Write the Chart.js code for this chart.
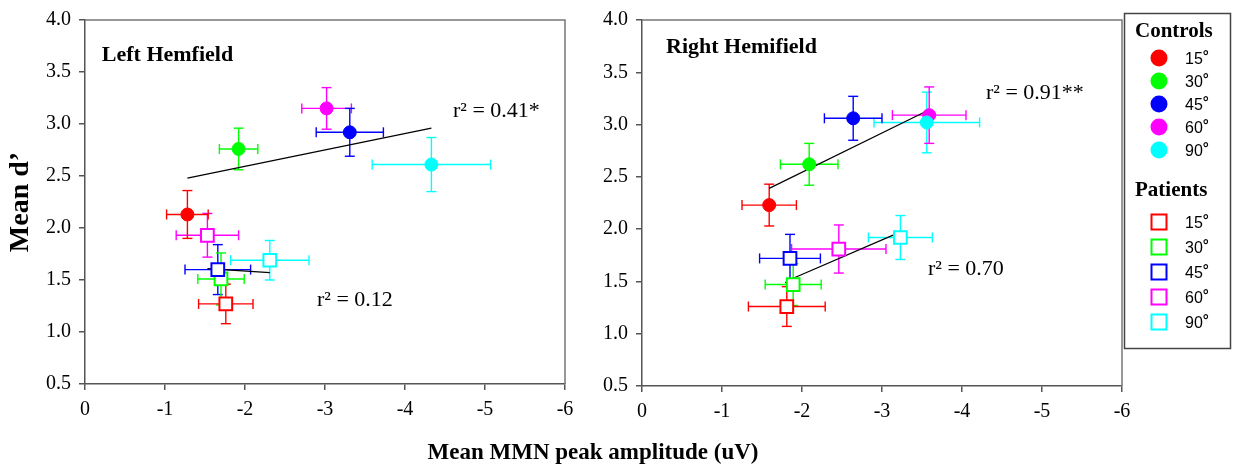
<!DOCTYPE html>
<html><head><meta charset="utf-8">
<script src="https://cdn.jsdelivr.net/npm/chart.js@4.4.1/dist/chart.umd.min.js"></script>
<style>
html,body{margin:0;padding:0;background:#fff;width:1233px;height:467px;overflow:hidden;position:relative}
#cA{position:absolute;left:0;top:0}
#cB{position:absolute;left:590px;top:0}
#xtitle{position:absolute;left:0;width:1186px;top:438px;text-align:center;font:bold 23px 'Liberation Serif',serif;line-height:28px;color:#000}
</style></head><body>
<canvas id="cA" width="590" height="467"></canvas>
<canvas id="cB" width="643" height="467"></canvas>
<div id="xtitle">Mean MMN peak amplitude (uV)</div>
<script>
// ---------- data ----------
const degrees = ['15', '30', '45', '60', '90'];
const xTicks = [0, -1, -2, -3, -4, -5, -6];
const yTicks = [0.5, 1.0, 1.5, 2.0, 2.5, 3.0, 3.5, 4.0];

// Left hemifield - controls
const leftCtrlX    = [-1.28, -1.92, -3.31, -3.02, -4.33];
const leftCtrlY    = [2.13, 2.76, 2.92, 3.15, 2.61];
const leftCtrlXErr = [0.26, 0.24, 0.42, 0.31, 0.74];
const leftCtrlYErr = [0.23, 0.20, 0.23, 0.20, 0.26];
// Left hemifield - patients
const leftPatX    = [-1.76, -1.70, -1.66, -1.53, -2.31];
const leftPatY    = [1.27, 1.51, 1.60, 1.93, 1.69];
const leftPatXErr = [0.34, 0.29, 0.41, 0.39, 0.49];
const leftPatYErr = [0.19, 0.25, 0.24, 0.21, 0.19];
// Right hemifield - controls
const rightCtrlX    = [-1.59, -2.09, -2.64, -3.59, -3.56];
const rightCtrlY    = [2.23, 2.62, 3.06, 3.09, 3.02];
const rightCtrlXErr = [0.34, 0.36, 0.36, 0.46, 0.66];
const rightCtrlYErr = [0.20, 0.20, 0.21, 0.27, 0.29];
// Right hemifield - patients
const rightPatX    = [-1.81, -1.89, -1.85, -2.46, -3.23];
const rightPatY    = [1.26, 1.47, 1.72, 1.81, 1.92];
const rightPatXErr = [0.48, 0.35, 0.38, 0.59, 0.40];
const rightPatYErr = [0.19, 0.20, 0.23, 0.23, 0.21];

// Regression lines (end points)
const leftCtrlFitX  = [-1.28, -4.33];
const leftCtrlFitY  = [2.48, 2.96];
const leftPatFitX   = [-1.53, -2.31];
const leftPatFitY   = [1.61, 1.57];
const rightCtrlFitX = [-1.59, -3.56];
const rightCtrlFitY = [2.39, 3.13];
const rightPatFitX  = [-1.89, -3.16];
const rightPatFitY  = [1.53, 1.95];

const panelTitles = ['Left Hemfield', 'Right Hemifield'];
const leftR2  = ['r² = 0.41*', 'r² = 0.12'];
const rightR2 = ['r² = 0.91**', 'r² = 0.70'];

// ---------- styles ----------
const colors = ['#ff0000', '#00ff00', '#0000ff', '#ff00ff', '#00ffff'];
Chart.defaults.font.family = "'Liberation Serif', serif";
Chart.defaults.color = '#000';

function errorSets(xs, ys, xe, ye) {
  const out = [];
  xs.forEach((x, i) => {
    const c = colors[i];
    const common = {showLine: true, borderColor: c, borderWidth: 1.4, pointStyle: 'line',
      pointRadius: 5, pointHoverRadius: 5, pointBorderColor: c, pointBorderWidth: 1.4, order: 3};
    out.push(Object.assign({data: [{x: x - xe[i], y: ys[i]}, {x: x + xe[i], y: ys[i]}], pointRotation: 90}, common));
    out.push(Object.assign({data: [{x: x, y: ys[i] - ye[i]}, {x: x, y: ys[i] + ye[i]}], pointRotation: 0}, common));
  });
  return out;
}
function pts(xs, ys) { return xs.map((x, i) => ({x: x, y: ys[i]})); }
function fitSet(xs, ys) {
  return {data: pts(xs, ys), showLine: true, borderColor: '#000', borderWidth: 1.2, pointRadius: 0, order: 2};
}
function ctrlSet(xs, ys) {
  return {data: pts(xs, ys), pointStyle: 'circle', pointRadius: 6.5, pointHoverRadius: 6.5,
    pointBackgroundColor: colors, pointBorderColor: colors, pointBorderWidth: 1, order: 0};
}
function patSet(xs, ys) {
  return {data: pts(xs, ys), pointStyle: 'rect', pointRadius: 9, pointHoverRadius: 9,
    pointBackgroundColor: '#ffffff', pointBorderColor: colors, pointBorderWidth: 2, order: 1};
}

const framePlugin = {
  id: 'frame',
  beforeDatasetsDraw(chart) {
    const {ctx, chartArea: a} = chart;
    ctx.save();
    ctx.strokeStyle = '#777';
    ctx.lineWidth = 1.5;
    ctx.beginPath();
    ctx.moveTo(a.left, a.top);
    ctx.lineTo(a.right, a.top);
    ctx.lineTo(a.right, a.bottom);
    ctx.stroke();
    ctx.restore();
  }
};

function textPlugin(items) {
  return {
    id: 'panelText',
    afterDatasetsDraw(chart) {
      const {ctx, scales} = chart;
      ctx.save();
      ctx.fillStyle = '#000';
      ctx.textAlign = 'left';
      ctx.textBaseline = 'middle';
      items.forEach(it => {
        ctx.font = it.font;
        ctx.fillText(it.text, scales.x.getPixelForValue(it.x), scales.y.getPixelForValue(it.y));
      });
      ctx.restore();
    }
  };
}

const legendPlugin = {
  id: 'groupLegend',
  afterDraw(chart) {
    const ctx = chart.ctx;
    const ox = 590;
    ctx.save();
    ctx.strokeStyle = '#444';
    ctx.lineWidth = 1.5;
    ctx.strokeRect(1124.5 - ox, 13.5, 106, 335);
    ctx.fillStyle = '#000';
    ctx.textBaseline = 'middle';
    ctx.textAlign = 'left';
    ctx.font = "bold 21px 'Liberation Serif', serif";
    ctx.fillText('Controls', 1135 - ox, 32);
    ctx.fillText('Patients', 1135 - ox, 191);
    const cy = [58, 81, 104, 127, 150];
    const py = [222, 247, 272, 297, 322];
    const numFont = "16px 'Liberation Sans', Arial, sans-serif";
    const degFont = "bold 15px 'Liberation Sans', Arial, sans-serif";
    function label(d, x, y) {
      ctx.fillStyle = '#000';
      ctx.font = numFont;
      ctx.fillText(d, x, y + 2);
      const w = ctx.measureText(d).width;
      ctx.font = degFont;
      ctx.fillText('°', x + w, y - 1);
    }
    degrees.forEach((d, i) => {
      ctx.fillStyle = colors[i];
      ctx.beginPath();
      ctx.arc(1159 - ox, cy[i], 8.5, 0, Math.PI * 2);
      ctx.fill();
      label(d, 1185 - ox, cy[i]);
      ctx.strokeStyle = colors[i];
      ctx.lineWidth = 2;
      ctx.strokeRect(1159 - ox - 7.5, py[i] - 7.5, 15, 15);
      label(d, 1185 - ox, py[i]);
    });
    ctx.restore();
  }
};

function scalesCfg(yWidth, xHeight, yTitle) {
  return {
    x: {
      type: 'linear', min: -6, max: 0, reverse: true,
      afterBuildTicks: s => { s.ticks = xTicks.map(v => ({value: v})); },
      ticks: {font: {size: 20}, color: '#000', padding: 8, callback: v => String(v), maxRotation: 0},
      grid: {drawOnChartArea: false, color: '#555', tickLength: 6, lineWidth: 1.5},
      border: {color: '#555', width: 1.5},
      afterFit: s => { s.height = xHeight; }
    },
    y: {
      type: 'linear', min: 0.5, max: 4.0,
      afterBuildTicks: s => { s.ticks = yTicks.map(v => ({value: v})); },
      ticks: {font: {size: 20}, color: '#000', padding: 8, callback: v => Number(v).toFixed(1)},
      grid: {drawOnChartArea: false, color: '#555', tickLength: 6, lineWidth: 1.5},
      border: {color: '#555', width: 1.5},
      title: yTitle ? {display: true, text: yTitle, font: {size: 28, weight: 'bold'}, color: '#000', padding: {top: 4, bottom: 0}} : {display: false},
      afterFit: s => { s.width = yWidth; }
    }
  };
}

const baseOpts = {
  responsive: false, animation: false, devicePixelRatio: 1,
  events: [],
  plugins: {legend: {display: false}, tooltip: {enabled: false}}
};

new Chart(document.getElementById('cA'), {
  type: 'scatter',
  data: {datasets: [
    ctrlSet(leftCtrlX, leftCtrlY),
    patSet(leftPatX, leftPatY),
    fitSet(leftCtrlFitX, leftCtrlFitY),
    fitSet(leftPatFitX, leftPatFitY),
    ...errorSets(leftCtrlX, leftCtrlY, leftCtrlXErr, leftCtrlYErr),
    ...errorSets(leftPatX, leftPatY, leftPatXErr, leftPatYErr)
  ]},
  options: Object.assign({}, baseOpts, {
    layout: {padding: {top: 14, right: 25, left: 0, bottom: 0}},
    scales: scalesCfg(85, 83, 'Mean d\u2019')
  }),
  plugins: [framePlugin, textPlugin([
    {text: panelTitles[0], x: -0.21, y: 3.66, font: "bold 22px 'Liberation Serif', serif"},
    {text: leftR2[0], x: -4.6, y: 3.12, font: "22px 'Liberation Serif', serif"},
    {text: leftR2[1], x: -2.9, y: 1.31, font: "22px 'Liberation Serif', serif"}
  ])]
});

new Chart(document.getElementById('cB'), {
  type: 'scatter',
  data: {datasets: [
    ctrlSet(rightCtrlX, rightCtrlY),
    patSet(rightPatX, rightPatY),
    fitSet(rightCtrlFitX, rightCtrlFitY),
    fitSet(rightPatFitX, rightPatFitY),
    ...errorSets(rightCtrlX, rightCtrlY, rightCtrlXErr, rightCtrlYErr),
    ...errorSets(rightPatX, rightPatY, rightPatXErr, rightPatYErr)
  ]},
  options: Object.assign({}, baseOpts, {
    layout: {padding: {top: 18, right: 111, left: 0, bottom: 0}},
    scales: scalesCfg(52, 81, null)
  }),
  plugins: [framePlugin, legendPlugin, textPlugin([
    {text: panelTitles[1], x: -0.30, y: 3.74, font: "bold 22px 'Liberation Serif', serif"},
    {text: rightR2[0], x: -4.3, y: 3.30, font: "22px 'Liberation Serif', serif"},
    {text: rightR2[1], x: -3.575, y: 1.62, font: "22px 'Liberation Serif', serif"}
  ])]
});
</script>
</body></html>
